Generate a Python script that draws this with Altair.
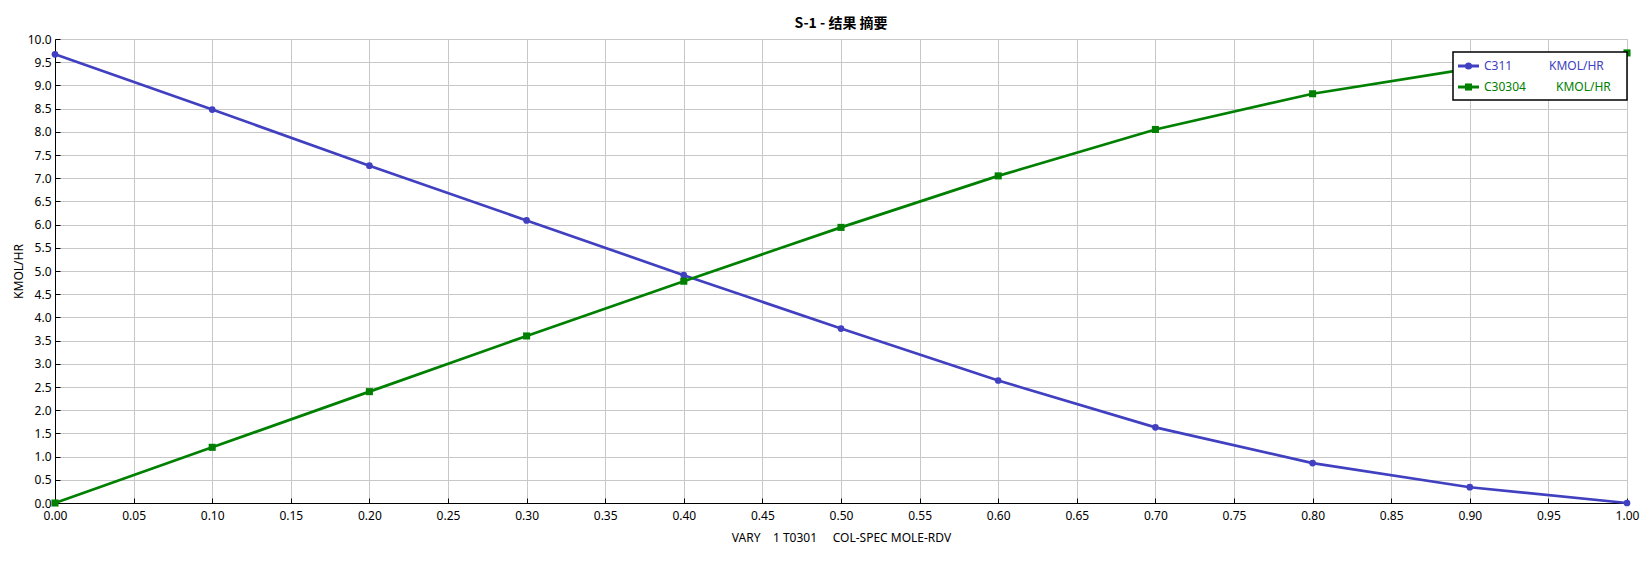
import altair as alt
import pandas as pd

x_vals = [0.0, 0.1, 0.2, 0.3, 0.4, 0.5, 0.6, 0.7, 0.8, 0.9, 1.0]
c311 = [9.67, 8.48, 7.27, 6.09, 4.91, 3.76, 2.64, 1.63, 0.86, 0.34, 0.0]
c30304 = [0.0, 1.20, 2.40, 3.60, 4.78, 5.94, 7.05, 8.05, 8.82, 9.36, 9.70]
series_names = ["C311", "C30304"]
series_colors = ["#4040C0", "#008000"]
legend_units = ["KMOL/HR", "KMOL/HR"]
y_ticks = [0.0, 0.5, 1.0, 1.5, 2.0, 2.5, 3.0, 3.5, 4.0, 4.5, 5.0,
           5.5, 6.0, 6.5, 7.0, 7.5, 8.0, 8.5, 9.0, 9.5, 10.0]
x_ticks = [0.0, 0.05, 0.1, 0.15, 0.2, 0.25, 0.3, 0.35, 0.4, 0.45, 0.5,
           0.55, 0.6, 0.65, 0.7, 0.75, 0.8, 0.85, 0.9, 0.95, 1.0]

title_text = "S-1 - 结果 摘要"
NB = "\u00a0"
x_title = "VARY" + NB * 4 + "1 T0301" + NB * 5 + "COL-SPEC MOLE-RDV"
y_title = "KMOL/HR"

W, H = 1572, 464
FONT = "Noto Sans"

df = pd.DataFrame({
    "x": x_vals * 2,
    "y": c311 + c30304,
    "s": [series_names[0]] * len(x_vals) + [series_names[1]] * len(x_vals),
})

xs = alt.Scale(domain=[0, 1], nice=False, zero=False)
ys = alt.Scale(domain=[0, 10], nice=False)

x_axis = alt.Axis(values=x_ticks, format=".2f", grid=True, tickCount=100,
                  gridColor="#c8c8c8", domainColor="#000000",
                  tickColor="#000000", tickSize=alt.ExprRef("-5"),
                  labelPadding=12, labelFont=FONT, labelFontSize=12,
                  labelColor="#000000", titleFont=FONT,
                  titleFontSize=12, titleFontWeight="normal",
                  titleColor="#000000", titlePadding=11,
                  labelFlush=False, labelOverlap=False)
y_axis = alt.Axis(values=y_ticks, format=".1f", grid=True, tickCount=100,
                  gridColor="#c8c8c8", domainColor="#000000",
                  tickColor="#000000", tickSize=alt.ExprRef("-5"),
                  labelPadding=9, labelFont=FONT, labelFontSize=12,
                  labelColor="#000000", titleFont=FONT,
                  titleFontSize=12, titleFontWeight="normal",
                  titleColor="#000000", titlePadding=2,
                  labelFlush=False, labelOverlap=False)
x_enc = alt.X("x:Q", scale=xs, title=x_title, axis=x_axis)
y_enc = alt.Y("y:Q", scale=ys, title=y_title, axis=y_axis)
color_enc = alt.Color("s:N", scale=alt.Scale(domain=series_names, range=series_colors), legend=None)

lines = alt.Chart(df).mark_line(strokeWidth=2.7, clip=False).encode(
    x=x_enc, y=y_enc, color=color_enc, detail="s:N")
pts_c = alt.Chart(df).transform_filter(alt.datum.s == series_names[0]).mark_point(
    shape="circle", filled=True, size=45, opacity=1, clip=False).encode(
    x=x_enc, y=y_enc, color=color_enc)
pts_s = alt.Chart(df).transform_filter(alt.datum.s == series_names[1]).mark_point(
    shape="square", filled=True, size=50, opacity=1, clip=False).encode(
    x=x_enc, y=y_enc, color=color_enc)

# legend box (decoration, pixel positions relative to plot area)
one = alt.Data(values=[{"a": 1}])
LX0, LX1, LY0, LY1 = 1398, 1572, 13, 61
box = alt.Chart(one).mark_rect(fill="white", stroke="black", strokeWidth=1.5).encode(
    x=alt.value(LX0), x2=alt.value(LX1), y=alt.value(LY0), y2=alt.value(LY1))
leg_layers = [box]
rows = [27, 48]
shapes = ["circle", "square"]
unit_x = [1494, 1501]
for i in range(2):
    ry = rows[i]
    leg_layers.append(alt.Chart(one).mark_rule(color=series_colors[i], strokeWidth=3).encode(
        x=alt.value(LX0 + 5), x2=alt.value(LX0 + 26), y=alt.value(ry)))
    leg_layers.append(alt.Chart(one).mark_point(shape=shapes[i], filled=True, size=50,
                                                opacity=1, color=series_colors[i]).encode(
        x=alt.value(LX0 + 15.5), y=alt.value(ry)))
    leg_layers.append(alt.Chart(one).mark_text(text=series_names[i], align="left", baseline="middle",
                                               font=FONT, fontSize=12, color=series_colors[i]).encode(
        x=alt.value(LX0 + 31), y=alt.value(ry)))
    leg_layers.append(alt.Chart(one).mark_text(text=legend_units[i], align="left", baseline="middle",
                                               font=FONT, fontSize=12, color=series_colors[i]).encode(
        x=alt.value(unit_x[i]), y=alt.value(ry)))

chart = alt.layer(lines, pts_c, pts_s, *leg_layers).properties(
    width=W, height=H,
    title=alt.TitleParams(title_text, font="Noto Sans CJK SC", fontSize=14, fontWeight="bold",
                          color="#000000", anchor="middle", offset=2),
    autosize=alt.AutoSizeParams(type="none"),
    padding={"left": 47, "top": 31, "right": 16, "bottom": 50},
    background="white",
).configure_view(stroke="#c8c8c8")

chart.save("out.html", embed_options={"renderer": "svg", "actions": False})
